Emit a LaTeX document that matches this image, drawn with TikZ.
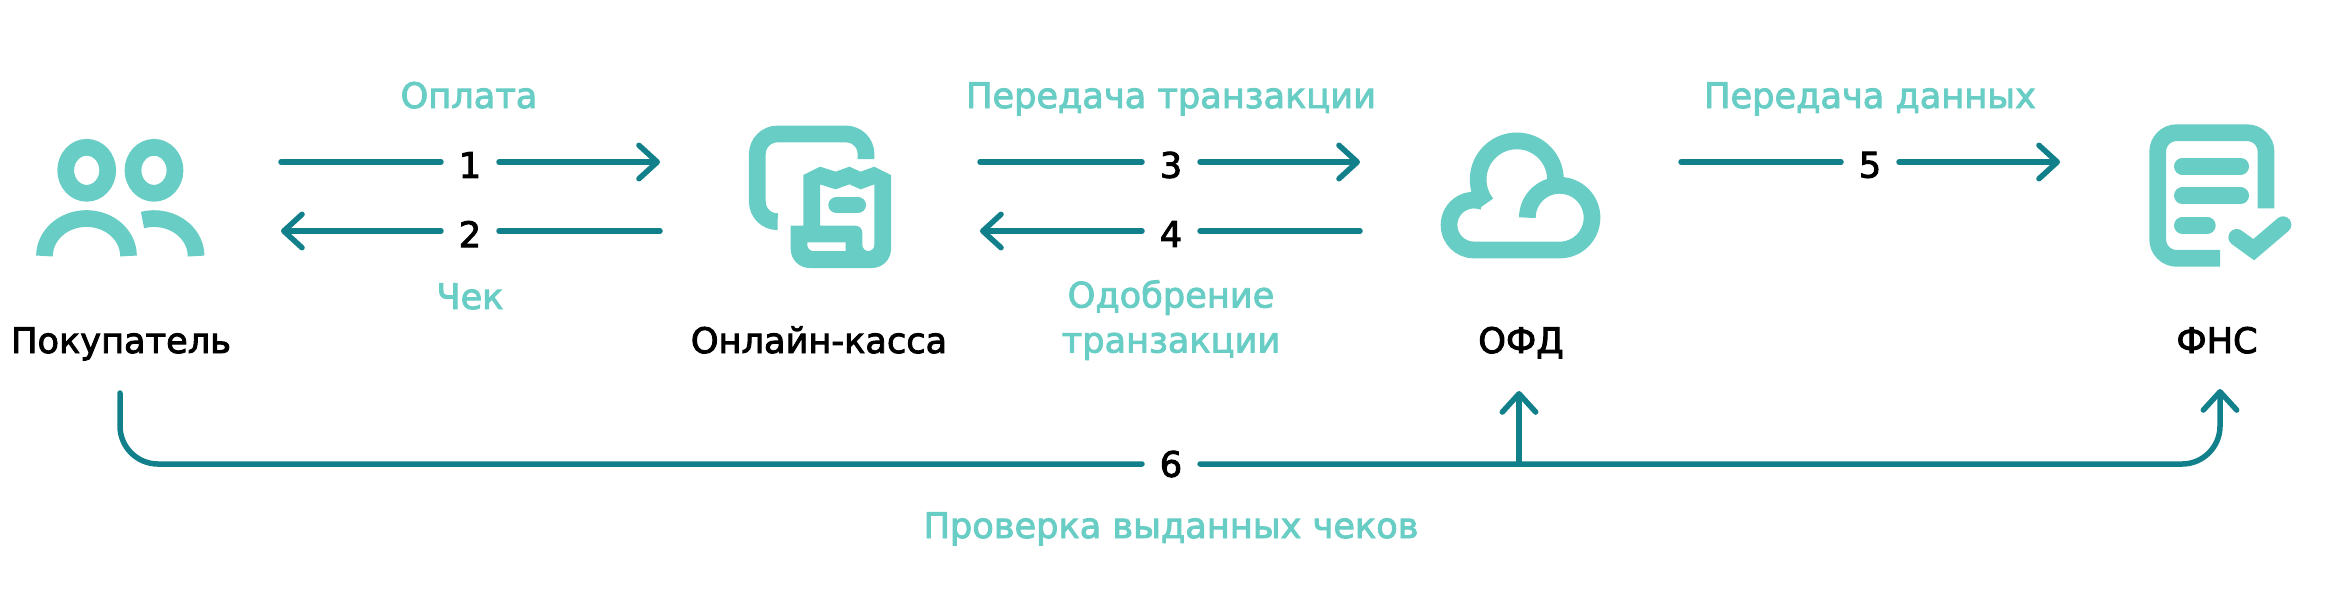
\documentclass[tikz,border=0pt]{standalone}
\usepackage{fontspec}
\setmainfont{DejaVu Sans}[FakeBold=2.6]
\usetikzlibrary{arrows.meta}
\definecolor{mint}{HTML}{68CDC4}
\definecolor{deepteal}{HTML}{12808A}
\tikzset{
  flow/.style={draw=deepteal, line width=0.055cm, line cap=round},
  tipped/.style={-{Straight Barb[length=5.2pt,width=9.5pt,round]}},
  num/.style={inner sep=0pt, outer sep=0pt, minimum width=0.58cm, font=\fontsize{10}{12}\selectfont},
  caption/.style={text=mint, anchor=base, inner sep=0pt, font=\fontsize{10}{12.8}\selectfont},
  actor/.style={text=black, anchor=base, inner sep=0pt, font=\fontsize{10}{12}\selectfont},
  glyph/.style={draw=mint, line width=0.167cm},
}
\begin{document}
\begin{tikzpicture}[x=0.01cm,y=-0.01cm]
\useasboundingbox (0,0) rectangle (2340,614);
% actors
\node[actor] (buyer) at (121,353) {Покупатель};
\node[actor] (till) at (819,353) {Онлайн-касса};
\node[actor] (ofd) at (1521,353) {ОФД};
\node[actor] (fns) at (2217,353) {ФНС};
% captions
\node[caption] (pay) at (469,108) {Оплата};
\node[caption] (check) at (470,309) {Чек};
\node[caption, anchor=center, align=center] (okay) at (1171,320) {Одобрение\\транзакции};
\node[caption] (pass) at (1171,108) {Передача транзакции};
\node[caption] (data) at (1870,108) {Передача данных};
\node[caption] (audit) at (1171,538) {Проверка выданных чеков};
% numbered arrows
\foreach \n/\xa/\xm/\xb/\y/\near/\far in {1/281/470/660/162/west/east,2/660/470/281/231/east/west,3/980/1171/1360/162/west/east,4/1360/1171/980/231/east/west,5/1681/1870/2060/162/west/east} {
  \coordinate (from\n) at (\xa,\y);
  \coordinate (to\n) at (\xb,\y);
  \node[num] (n\n) at (\xm,\y+3) {\n};
  \draw[flow] (from\n) -- (from\n -| n\n.\near);
  \draw[flow, tipped] (to\n -| n\n.\far) -- (to\n);
}
% check round the bottom
\coordinate (start) at (120,393);
\coordinate (low) at (120,464);
\coordinate (lowr) at (2220,464);
\coordinate (end) at (2220,389);
\coordinate (fork) at (1519,464);
\coordinate (ofdin) at (1519,391);
\node[num] (n6) at (1171,464) {6};
\draw[flow, rounded corners=0.38cm] (start) -- (low) -- (low -| n6.west);
\draw[flow, tipped, rounded corners=0.38cm] (low -| n6.east) -- (lowr) -- (end);
\draw[flow, tipped] (fork) -- (ofdin);
% buyer icon
\draw[glyph] (86.7,170.3) ellipse [x radius=21, y radius=23];
\draw[glyph] (154,170.3) ellipse [x radius=21, y radius=23];
\draw[glyph] (44.5,256) arc [start angle=180, end angle=360, x radius=42, y radius=37.5];
\draw[glyph] (142.5,220) arc [start angle=254, end angle=360, x radius=42, y radius=37.5];
% till icon
\begin{scope}[shift={(690,100)},scale=1/3]
\draw[glyph, rounded corners=0.2cm] (528,177) -- (528,102) -- (202,102) -- (202,365) -- (263,365);
\fill[mint, even odd rule] (340,225) -- (390,200) -- (437,215) -- (478,200) -- (512,215) -- (553,200) -- (603,225)
  [rounded corners=0.19cm] -- (603,504) -- (302,504) [sharp corners] -- (302,377) -- (340,377) -- cycle
  (390,253) -- (437,268) -- (478,253) -- (512,268) -- (553,253) [rounded corners=0.06cm] -- (553,453) -- (517,453)
  [rounded corners=0.07cm] -- (517,377) [sharp corners] -- (390,377) -- cycle
  (467,427) -- (352,427) [rounded corners=0.06cm] -- (352,453) [sharp corners] -- (467,453) -- cycle;
\draw[glyph, line cap=round] (440,315) -- (503,315);
\end{scope}
% ofd icon
\begin{scope}[shift={(1400,110)},scale=1/3]
\draw[glyph] (382,323) arc [start angle=180, end angle=450, radius=97] -- (222,420)
  arc [start angle=90, end angle=290, radius=75];
\draw[glyph] (259,280) arc [start angle=142, end angle=365, radius=116];
\end{scope}
% fns icon
\begin{scope}[shift={(2100,100)},scale=1/3]
\draw[glyph, rounded corners=0.19cm] (498,325) -- (498,98) -- (173,98) -- (173,475) -- (360,475);
\draw[glyph, line cap=round] (247,199) -- (422,199);
\draw[glyph, line cap=round] (247,287) -- (422,287);
\draw[glyph, line cap=round] (247,376) -- (322,376);
\draw[glyph, line cap=round] (410,412) -- (461,449) -- (549,374);
\end{scope}
\end{tikzpicture}
\end{document}
